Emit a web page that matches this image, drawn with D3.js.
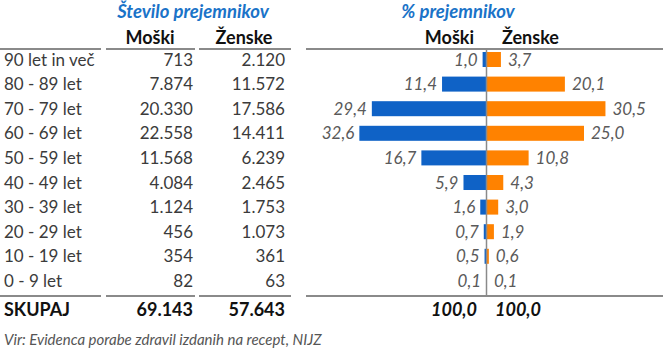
<!DOCTYPE html>
<html><head><meta charset="utf-8">
<script src="https://cdn.jsdelivr.net/npm/d3@7"></script>
<style>
html,body{margin:0;padding:0;background:#fff;}
svg{display:block;font-family:Lato, "Open Sans", sans-serif;}
</style></head>
<body>
<svg id="c" width="663" height="359"></svg>
<script>
const ageGroups = ["90 let in več","80 - 89 let","70 - 79 let","60 - 69 let","50 - 59 let","40 - 49 let","30 - 39 let","20 - 29 let","10 - 19 let","0 - 9 let"];
const countMen   = ["713","7.874","20.330","22.558","11.568","4.084","1.124","456","354","82"];
const countWomen = ["2.120","11.572","17.586","14.411","6.239","2.465","1.753","1.073","361","63"];
const pctMen   = [1.0,11.4,29.4,32.6,16.7,5.9,1.6,0.7,0.5,0.1];
const pctWomen = [3.7,20.1,30.5,25.0,10.8,4.3,3.0,1.9,0.6,0.1];
const totalLabel = "SKUPAJ";
const totalCounts = ["69.143","57.643"];
const totalPct = ["100,0","100,0"];
const titles = ["Število prejemnikov","% prejemnikov"];
const colHeads = ["Moški","Ženske"];
const source = "Vir: Evidenca porabe zdravil izdanih na recept, NIJZ";

const svg = d3.select("#c");
const blue = "#0F62C6", orange = "#FF8200", grey = "#3b3b3b", lblGrey = "#5a5a5a", lineGrey = "#8a8a8a";
const fs = 17, hfs = 18;

const y = d3.scaleBand().domain(ageGroups).range([47.2, 293.2]).paddingInner(0.39).paddingOuter(0.195);
const x0 = 486.5;
const xs = d3.scaleLinear().domain([0, 10]).range([0, 39]);
const fmt = v => d3.format(".1f")(v).replace(".", ",");
const cy = d => y(d) + y.bandwidth()/2;

// titles
svg.append("text").attr("x",193).attr("y",18).attr("text-anchor","middle")
  .attr("font-size",18.5).attr("font-weight","bold").attr("font-style","italic").attr("fill","#1A73C8").text(titles[0]);
svg.append("text").attr("x",458).attr("y",18).attr("text-anchor","middle")
  .attr("font-size",18.5).attr("font-weight","bold").attr("font-style","italic").attr("fill","#1A73C8").text(titles[1]);

// column headers
const hy = 44;
svg.append("text").attr("x",150).attr("y",hy).attr("text-anchor","middle").attr("font-size",hfs).attr("font-weight","bold").attr("fill","#111").text(colHeads[0]);
svg.append("text").attr("x",244).attr("y",hy).attr("text-anchor","middle").attr("font-size",hfs).attr("font-weight","bold").attr("fill","#111").text(colHeads[1]);
svg.append("text").attr("x",474).attr("y",hy).attr("text-anchor","end").attr("font-size",hfs).attr("font-weight","bold").attr("fill","#111").text(colHeads[0]);
svg.append("text").attr("x",502).attr("y",hy).attr("text-anchor","start").attr("font-size",hfs).attr("font-weight","bold").attr("fill","#111").text(colHeads[1]);

// rule lines
const segs = [[0,101],[106,195],[199,291],[306,663]];
[49,296].forEach(ly => {
  svg.selectAll(null).data(segs).enter().append("line")
    .attr("x1",d=>d[0]).attr("x2",d=>d[1]).attr("y1",ly).attr("y2",ly)
    .attr("stroke",lineGrey).attr("stroke-width",2);
});

// table rows
const rows = svg.append("g");
rows.selectAll(".lab").data(ageGroups).enter().append("text")
  .attr("x",4).attr("y",d=>cy(d)+6).attr("font-size",fs).attr("fill",grey).text(d=>d);
rows.selectAll(".cm").data(countMen).enter().append("text")
  .attr("x",193).attr("y",(d,i)=>cy(ageGroups[i])+6).attr("text-anchor","end").attr("font-size",fs).attr("fill",grey).text(d=>d);
rows.selectAll(".cw").data(countWomen).enter().append("text")
  .attr("x",285).attr("y",(d,i)=>cy(ageGroups[i])+6).attr("text-anchor","end").attr("font-size",fs).attr("fill",grey).text(d=>d);

// bars
const bars = svg.append("g");
bars.selectAll(".bm").data(pctMen).enter().append("rect")
  .attr("x",d=>x0 - xs(d)).attr("width",d=>xs(d)).attr("y",(d,i)=>y(ageGroups[i])).attr("height",y.bandwidth()).attr("fill",blue);
bars.selectAll(".bw").data(pctWomen).enter().append("rect")
  .attr("x",x0).attr("width",d=>xs(d)).attr("y",(d,i)=>y(ageGroups[i])).attr("height",y.bandwidth()).attr("fill",orange);
bars.selectAll(".lm").data(pctMen).enter().append("text")
  .attr("x",d=>x0 - xs(d) - 5).attr("y",(d,i)=>cy(ageGroups[i])+6).attr("text-anchor","end")
  .attr("font-size",fs).attr("font-style","italic").attr("fill",lblGrey).text(fmt);
bars.selectAll(".lw").data(pctWomen).enter().append("text")
  .attr("x",d=>x0 + xs(d) + 7).attr("y",(d,i)=>cy(ageGroups[i])+6).attr("text-anchor","start")
  .attr("font-size",fs).attr("font-style","italic").attr("fill",lblGrey).text(fmt);

// centre axis
svg.append("line").attr("x1",x0).attr("x2",x0).attr("y1",49).attr("y2",296).attr("stroke",lineGrey).attr("stroke-width",1.5);

// totals
const ty = 316;
svg.append("text").attr("x",4).attr("y",ty).attr("font-size",hfs).attr("font-weight","bold").attr("fill","#111").text(totalLabel);
svg.append("text").attr("x",193).attr("y",ty).attr("text-anchor","end").attr("font-size",hfs).attr("font-weight","bold").attr("fill","#111").text(totalCounts[0]);
svg.append("text").attr("x",285).attr("y",ty).attr("text-anchor","end").attr("font-size",hfs).attr("font-weight","bold").attr("fill","#111").text(totalCounts[1]);
svg.append("text").attr("x",477).attr("y",ty).attr("text-anchor","end").attr("font-size",hfs).attr("font-weight","bold").attr("font-style","italic").attr("fill","#111").text(totalPct[0]);
svg.append("text").attr("x",495).attr("y",ty).attr("text-anchor","start").attr("font-size",hfs).attr("font-weight","bold").attr("font-style","italic").attr("fill","#111").text(totalPct[1]);

// source
svg.append("text").attr("x",4).attr("y",345).attr("font-size",15).attr("font-style","italic").attr("fill","#555").text(source);
</script>
</body></html>
